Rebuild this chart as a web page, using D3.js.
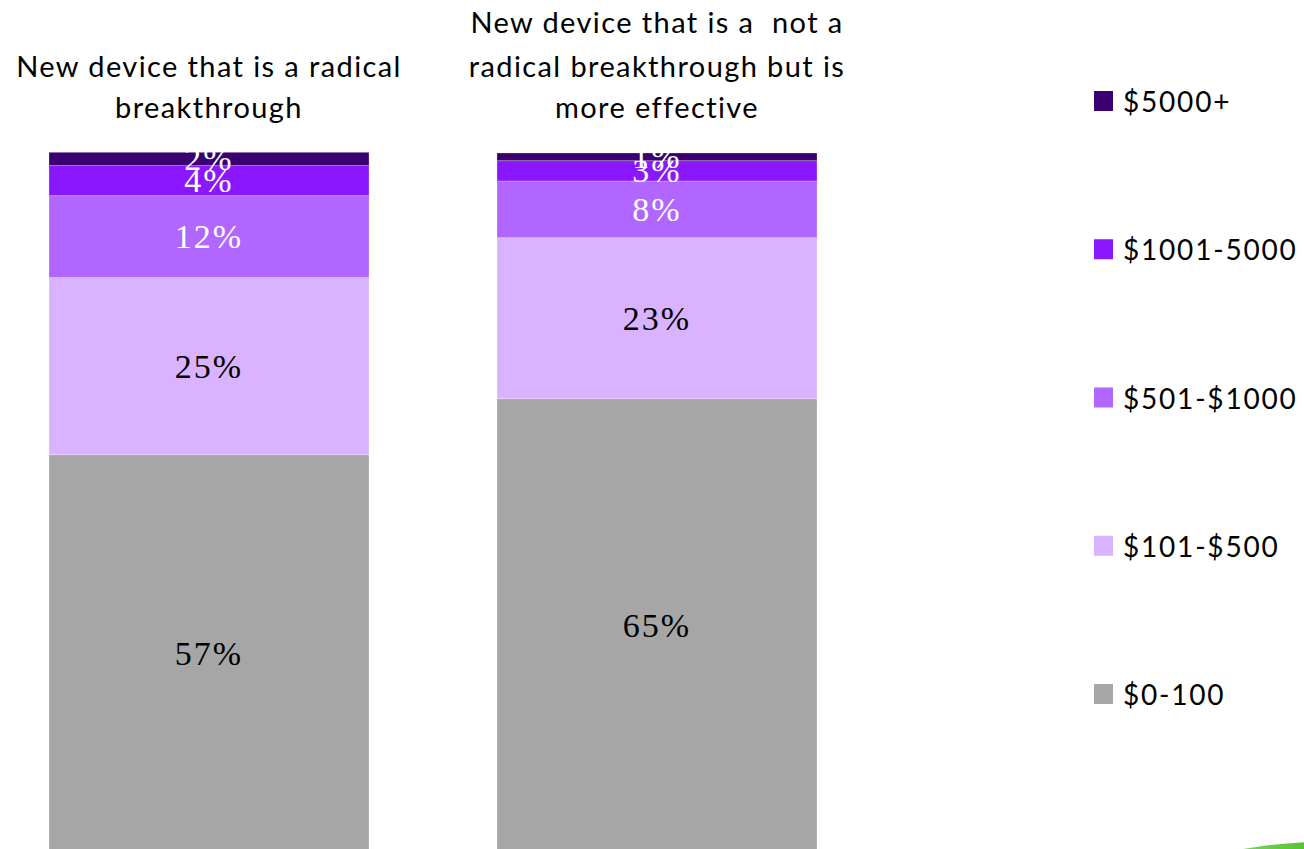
<!DOCTYPE html>
<html>
<head>
<meta charset="utf-8">
<script src="https://cdn.jsdelivr.net/npm/d3@7"></script>
<style>
  html, body { margin: 0; padding: 0; background: #fff; overflow: hidden; }
  text { white-space: pre; }
</style>
</head>
<body>
<svg id="chart" width="1304" height="849"></svg>
<script>
// ---- data ----
const categories = ["radical", "notRadical"];
const titleLines = [
  ["New device that is a radical", "breakthrough"],
  ["New device that is a  not a", "radical breakthrough but is", "more effective"]
];
const seriesNames = ["$0-100", "$101-$500", "$501-$1000", "$1001-5000", "$5000+"];
const v0_100     = [56.9, 64.9];
const v101_500   = [25.3, 23.0];
const v501_1000  = [11.7, 8.1];
const v1001_5000 = [4.3, 2.9];
const v5000plus  = [1.9, 1.1];
const seriesValues = [v0_100, v101_500, v501_1000, v1001_5000, v5000plus];
const colors = ["#a6a6a6", "#d9b3ff", "#b066ff", "#8b17ff", "#3a0070"];
const labelColors = ["#000", "#000", "#fff", "#fff", "#fff"];

// ---- build table ----
const table = categories.map((c, i) => {
  const row = { cat: c };
  seriesNames.forEach((s, j) => row[s] = seriesValues[j][i]);
  return row;
});

const svg = d3.select("#chart");
const x = d3.scaleBand().domain(categories).range([49, 817]).paddingInner(128 / 448).paddingOuter(0);
const y = d3.scaleLinear().domain([0, 100]).range([853, 153]);

const stack = d3.stack().keys(seriesNames);
const stacked = stack(table);

const layers = svg.append("g").selectAll("g")
  .data(stacked).join("g")
  .attr("fill", (d, i) => colors[i]);

layers.selectAll("rect")
  .data(d => d.map(p => ({ p, key: d.key, idx: d.index })))
  .join("rect")
  .attr("x", d => x(d.p.data.cat))
  .attr("width", x.bandwidth())
  .attr("y", d => y(d.p[1]))
  .attr("height", d => y(d.p[0]) - y(d.p[1]))
  .attr("stroke", "rgba(255,255,255,0.3)")
  .attr("stroke-width", 0.8);

// labels
layers.selectAll("text")
  .data(d => d.map(p => ({ p, key: d.key, idx: d.index })))
  .join("text")
  .attr("x", d => x(d.p.data.cat) + x.bandwidth() / 2)
  .attr("y", d => (y(d.p[0]) + y(d.p[1])) / 2)
  .attr("text-anchor", "middle")
  .attr("dominant-baseline", "central")
  .attr("font-family", "'Liberation Serif', 'Times New Roman', serif")
  .attr("font-size", 34)
  .attr("letter-spacing", 2)
  .attr("fill", d => labelColors[d.idx])
  .text(d => Math.round(d.p[1] - d.p[0]) + "%");

// titles
const titleBaselines = [[77, 118], [33, 77, 118]];
categories.forEach((c, i) => {
  const t = svg.append("text")
    .attr("text-anchor", "middle")
    .attr("font-family", "Lato, 'Open Sans', sans-serif")
    .attr("font-size", 29)
    .attr("letter-spacing", 1.4)
    .attr("fill", "#000");
  titleLines[i].forEach((line, k) => {
    t.append("tspan")
      .attr("x", x(c) + x.bandwidth() / 2)
      .attr("y", titleBaselines[i][k])
      .text(line);
  });
});

// legend
const legendOrder = seriesNames.map((s, i) => i).reverse();
const legendY = d3.scalePoint().domain(legendOrder).range([101, 694]);
const lg = svg.append("g").selectAll("g").data(legendOrder).join("g")
  .attr("transform", d => `translate(1094, ${legendY(d)})`);
lg.append("rect")
  .attr("x", 0).attr("y", -10).attr("width", 19).attr("height", 20)
  .attr("fill", d => colors[d]);
lg.append("text")
  .attr("x", 29).attr("y", 0)
  .attr("dominant-baseline", "central")
  .attr("font-family", "Lato, 'Open Sans', sans-serif")
  .attr("font-size", 28)
  .attr("letter-spacing", 1.8)
  .attr("fill", "#000")
  .text(d => seriesNames[d]);

// decorative logo fragment bottom-right
const defs = svg.append("defs");
const grad = defs.append("linearGradient").attr("id", "g1").attr("x1", "0").attr("x2", "1");
grad.append("stop").attr("offset", "0").attr("stop-color", "#9be07a");
grad.append("stop").attr("offset", "0.4").attr("stop-color", "#52c22c");
grad.append("stop").attr("offset", "1").attr("stop-color", "#3fb61c");
svg.append("ellipse")
  .attr("cx", 1345).attr("cy", 876).attr("rx", 160).attr("ry", 35)
  .attr("fill", "url(#g1)");
</script>
</body>
</html>
